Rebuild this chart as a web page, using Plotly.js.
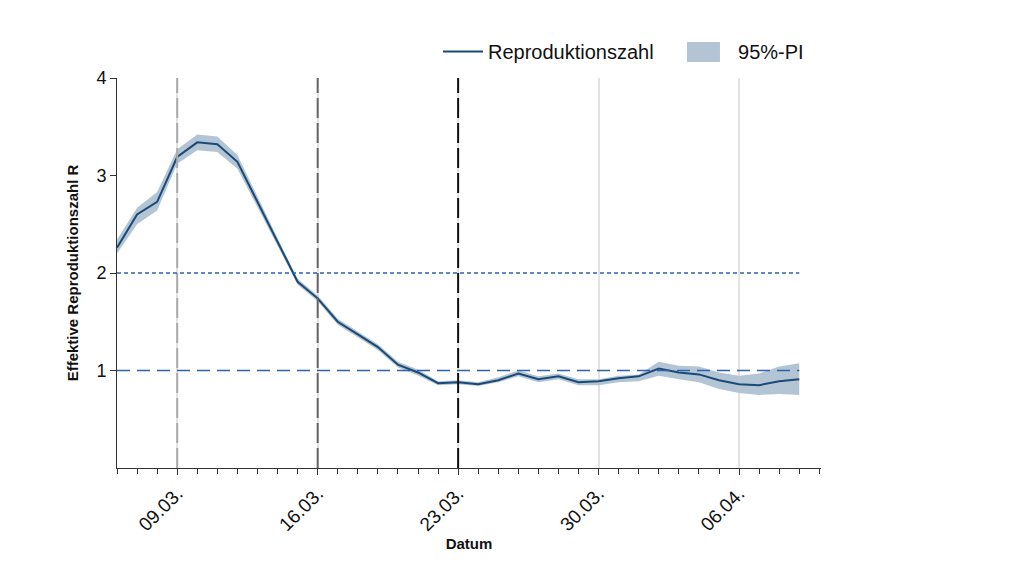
<!DOCTYPE html>
<html>
<head>
<meta charset="utf-8">
<script src="https://cdn.plot.ly/plotly-3.0.1.min.js"></script>
<style>
  html, body { margin: 0; padding: 0; background: #fff; }
  #plot { width: 1024px; height: 563px; }
</style>
</head>
<body>
<div id="plot"></div>
<script>
// daily estimates, 06.03. - 09.04.2020
let dates = [
  '2020-03-06', '2020-03-07', '2020-03-08', '2020-03-09', '2020-03-10', '2020-03-11', '2020-03-12',
  '2020-03-13', '2020-03-14', '2020-03-15', '2020-03-16', '2020-03-17', '2020-03-18', '2020-03-19',
  '2020-03-20', '2020-03-21', '2020-03-22', '2020-03-23', '2020-03-24', '2020-03-25', '2020-03-26',
  '2020-03-27', '2020-03-28', '2020-03-29', '2020-03-30', '2020-03-31', '2020-04-01', '2020-04-02',
  '2020-04-03', '2020-04-04', '2020-04-05', '2020-04-06', '2020-04-07', '2020-04-08', '2020-04-09'
];
let rValues = [
  2.26, 2.60, 2.73, 3.19, 3.34, 3.32, 3.14,
  2.73, 2.32, 1.91, 1.74, 1.50, 1.37, 1.24,
  1.06, 0.98, 0.87, 0.88, 0.86, 0.90, 0.97,
  0.91, 0.94, 0.88, 0.89, 0.92, 0.94, 1.02,
  0.98, 0.96, 0.90, 0.86, 0.85, 0.89, 0.91
];
let piLower = [
  2.20, 2.50, 2.64, 3.12, 3.26, 3.24, 3.07,
  2.68, 2.28, 1.88, 1.71, 1.47, 1.34, 1.21,
  1.03, 0.95, 0.85, 0.86, 0.84, 0.88, 0.94,
  0.88, 0.91, 0.85, 0.85, 0.88, 0.89, 0.945,
  0.91, 0.88, 0.81, 0.77, 0.75, 0.76, 0.75
];
let piUpper = [
  2.34, 2.67, 2.83, 3.27, 3.42, 3.40, 3.21,
  2.78, 2.36, 1.94, 1.77, 1.53, 1.40, 1.27,
  1.09, 1.01, 0.89, 0.90, 0.88, 0.93, 1.00,
  0.94, 0.97, 0.91, 0.91, 0.945, 0.96, 1.09,
  1.05, 1.04, 0.98, 0.945, 0.97, 1.04, 1.075
];
let yTicks = [1, 2, 3, 4];
// marked dates (dashed vertical lines) and their colours
let markerDates = ['2020-03-09', '2020-03-16', '2020-03-23'];
let markerColors = ['#aaaaaa', '#666666', '#111111'];
// horizontal reference levels
let refLevels = [2, 1];
let refDashes = ['4px,3px', '13px,7px'];

let fontFamily = '"Liberation Sans", Arial, sans-serif';
let bandColor = '#b3c5d5';

let traces = [
  {
    x: dates, y: piLower,
    mode: 'lines', line: {width: 0, color: bandColor},
    showlegend: false, hoverinfo: 'skip'
  },
  {
    x: dates, y: piUpper,
    mode: 'lines', line: {width: 0, color: bandColor},
    fill: 'tonexty', fillcolor: bandColor,
    showlegend: false
  },
  {
    x: dates, y: rValues,
    mode: 'lines', line: {width: 2, color: '#1a4a75'},
    name: 'Reproduktionszahl'
  },
  // legend entry for the interval band; its block is drawn as a shape below
  {
    x: [null], y: [null],
    mode: 'lines', line: {width: 0, color: 'rgba(0,0,0,0)'},
    name: '95%-PI'
  }
];

let shapes = [];
markerDates.forEach((d, i) => {
  shapes.push({
    type: 'line', xref: 'x', yref: 'paper',
    x0: d, x1: d, y0: 0, y1: 1,
    line: {color: markerColors[i], width: 2, dash: '20px,5px'},
    layer: 'above'
  });
});
refLevels.forEach((lvl, i) => {
  shapes.push({
    type: 'line', xref: 'x', yref: 'y',
    x0: dates[0], x1: dates[dates.length - 1], y0: lvl, y1: lvl,
    line: {color: '#2d62b0', width: 1.5, dash: refDashes[i]},
    layer: 'above'
  });
});
// legend block for 95%-PI
shapes.push({
  type: 'rect', xref: 'paper', yref: 'paper',
  x0: 0.8097, x1: 0.8565, y0: 1.041, y1: 1.092,
  fillcolor: bandColor, line: {width: 0}, layer: 'above'
});

let layout = {
  width: 1024,
  height: 563,
  margin: {l: 117, r: 203, t: 78, b: 95},
  paper_bgcolor: '#fff',
  plot_bgcolor: '#fff',
  font: {family: fontFamily, color: '#111'},
  showlegend: true,
  legend: {
    orientation: 'h',
    traceorder: 'normal',
    bgcolor: 'rgba(0,0,0,0)',
    x: 0.456, xanchor: 'left',
    y: 1.068, yanchor: 'middle',
    font: {size: 20, color: '#111'},
    itemwidth: 40,
    entrywidth: 195
  },
  xaxis: {
    type: 'date',
    range: ['2020-03-06', '2020-04-10 02:00'],
    tick0: '2020-03-09',
    dtick: 7 * 86400000,
    tickformat: '%d.%m.',
    tickangle: -45,
    tickfont: {size: 19, color: '#111'},
    ticks: 'outside', ticklen: 6, tickcolor: '#333', tickwidth: 1,
    minor: {dtick: 86400000, tick0: '2020-03-06', ticks: 'outside', ticklen: 5, tickcolor: '#333', showgrid: false},
    showgrid: true, gridcolor: '#e2e2e2', gridwidth: 2,
    showline: true, linecolor: '#333', linewidth: 1,
    zeroline: false,
    title: {text: '<b>Datum</b>', font: {size: 15, color: '#111'}, standoff: 0}
  },
  yaxis: {
    range: [0, 4],
    tickvals: yTicks,
    tickfont: {size: 18, color: '#111'},
    ticks: 'outside', ticklen: 6, tickcolor: '#333',
    showgrid: false,
    showline: true, linecolor: '#333', linewidth: 1,
    zeroline: false,
    title: {text: '<b>Effektive Reproduktionszahl R</b>', font: {size: 15, color: '#111'}, standoff: 14}
  },
  shapes: shapes,
  annotations: [{
    xref: 'paper', yref: 'paper', x: -0.05, y: -0.238,
    xanchor: 'left', yanchor: 'top', showarrow: false,
    align: 'left',
    text: '<span style="color:#1f7ac6"><b>Abb. 4</b></span> | Schätzung der effektiven Reproduktionszahl R für Deutschland, Stand 09.04.2020',
    font: {size: 15, color: '#111'}
  }]
};

Plotly.newPlot('plot', traces, layout, {staticPlot: true});
</script>
</body>
</html>
